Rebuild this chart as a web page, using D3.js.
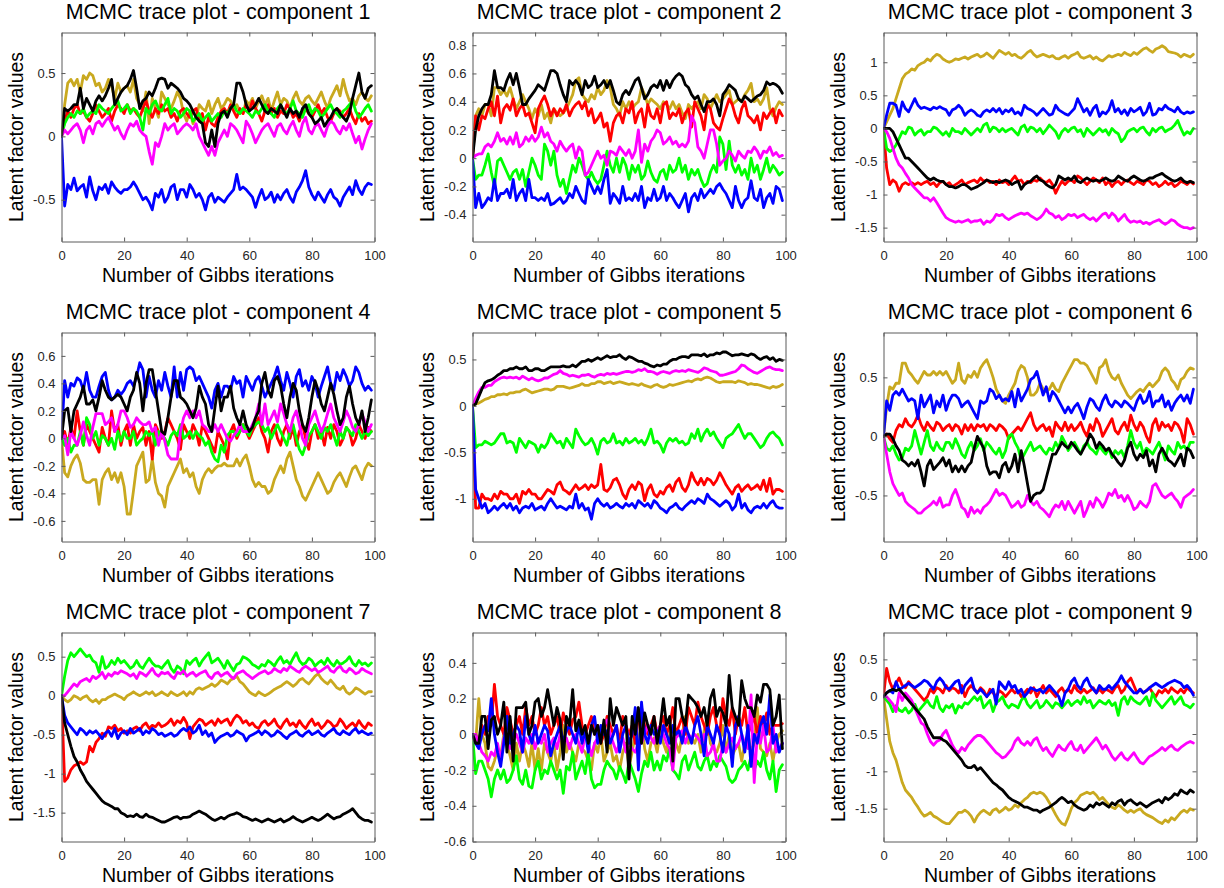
<!DOCTYPE html>
<html>
<head>
<meta charset="utf-8">
<script src="https://cdn.jsdelivr.net/npm/d3@7/dist/d3.min.js"></script>
<style>
  html, body { margin: 0; padding: 0; background: #ffffff; }
  svg { display: block; }
  text { font-family: "Liberation Sans", Arial, Helvetica, sans-serif; }
</style>
</head>
<body>
<script>
// Latent factor traces over 100 Gibbs iterations, nine components, six chains each.

// ---- component 1 ----
const c1_gold = [0,.25,.42,.45,.40,.45,.35,.48,.45,.50,
.48,.40,.42,.35,.38,.45,.40,.30,.42,.35,
.38,.40,.35,.45,.30,.25,.20,.35,.10,.30,
.22,.15,.35,.30,.25,.22,.28,.35,.30,.18,
.12,.20,.10,.15,.25,.22,.20,.28,.18,.25,
.30,.22,.25,.30,.28,.22,.25,.20,.18,.28,
.25,.30,.22,.28,.32,.25,.30,.20,.28,.35,
.25,.30,.28,.22,.30,.35,.28,.25,.30,.32,
.28,.25,.30,.35,.28,.22,.30,.35,.40,.32,
.45,.35,.28,.30,.25,.32,.35,.30,.28,.32];
const c1_red = [0,.12,.20,.15,.22,.25,.18,.20,.15,.12,
.18,.25,.20,.15,.18,.22,.12,.20,.25,.22,
.18,.25,.20,.22,.18,.15,.22,.28,.20,.15,
.22,.18,.25,.20,.22,.15,.18,.12,.20,.22,
.18,.15,.20,.22,.12,.18,.05,.15,.10,.08,
.15,.20,.22,.18,.25,.20,.15,.22,.18,.25,
.20,.28,.22,.18,.12,.20,.25,.18,.22,.15,
.20,.18,.25,.22,.15,.18,.12,.20,.22,.18,
.15,.20,.25,.18,.22,.15,.12,.18,.22,.20,
.15,.18,.22,.15,.10,.18,.12,.15,.10,.12];
const c1_green = [0,.10,.15,.18,.15,.20,.18,.22,.15,.18,
.20,.18,.25,.22,.20,.18,.22,.25,.28,.20,
.22,.25,.18,.22,.20,.15,.05,.22,.18,.25,
.28,.22,.20,.25,.30,.18,.22,.20,.15,.18,
.22,.20,.12,.15,.18,.12,.15,.18,.12,.15,
.18,.15,.20,.18,.22,.25,.20,.18,.22,.20,
.18,.15,.20,.18,.22,.25,.20,.18,.15,.22,
.25,.20,.18,.22,.28,.20,.18,.15,.22,.25,
.18,.22,.20,.15,.18,.22,.25,.20,.18,.15,
.20,.22,.25,.28,.20,.15,.18,.22,.25,.20];
const c1_magenta = [0,.05,.02,.05,.08,.10,.05,-.05,.05,.08,
.02,.10,.12,.08,.12,.15,.10,.05,.08,.02,
-.02,.05,.10,.08,.12,.05,.02,.00,-.12,-.22,
-.05,-.08,.00,.10,.05,.08,.10,.02,.05,.08,
.10,.08,.05,.10,.00,-.05,-.10,-.15,-.08,-.15,
-.05,.00,.05,.00,.10,.08,.05,.00,-.05,.12,
.08,.02,-.05,.00,.05,.08,.10,.05,.00,.08,
.10,.05,.02,.08,.12,.05,.00,.10,.15,.05,
.02,.08,.10,.05,.00,.08,.12,.10,.05,.02,
.08,.05,.10,.02,-.05,.00,-.10,-.02,.05,.10];
const c1_blue = [0,-.55,-.38,-.42,-.33,-.43,-.40,-.38,-.48,-.32,
-.43,-.50,-.40,-.42,-.38,-.45,-.36,-.40,-.43,-.45,
-.42,-.42,-.40,-.36,-.40,-.45,-.50,-.48,-.52,-.58,
-.45,-.48,-.42,-.52,-.48,-.40,-.38,-.50,-.42,-.42,
-.48,-.38,-.42,-.48,-.45,-.50,-.58,-.48,-.45,-.52,
-.48,-.50,-.52,-.48,-.45,-.42,-.30,-.42,-.40,-.42,
-.45,-.48,-.56,-.48,-.42,-.50,-.48,-.44,-.52,-.46,
-.50,-.45,-.42,-.48,-.52,-.44,-.40,-.35,-.27,-.40,
-.46,-.50,-.44,-.48,-.52,-.46,-.42,-.48,-.50,-.55,
-.48,-.44,-.40,-.46,-.35,-.42,-.46,-.40,-.37,-.38];
const c1_black = [0,.22,.20,.22,.25,.25,.38,.22,.30,.25,
.20,.28,.32,.28,.32,.38,.45,.25,.30,.35,
.38,.40,.45,.52,.38,.22,.28,.30,.35,.32,
.38,.45,.46,.45,.38,.42,.40,.38,.35,.30,
.28,.25,.20,.15,.12,.10,-.05,-.08,.05,-.08,
.10,.18,.20,.15,.22,.25,.42,.42,.35,.25,
.20,.22,.25,.30,.25,.20,.18,.22,.20,.18,
.25,.20,.15,.22,.18,.20,.15,.22,.25,.18,
.15,.10,.12,.15,.08,.12,.15,.20,.22,.18,
.15,.12,.18,.30,.40,.50,.35,.30,.38,.40];

// ---- component 2 ----
const c2_gold = [0,.30,.35,.30,.38,.38,.30,.50,.50,.45,
.48,.44,.50,.42,.35,.40,.45,.40,.35,.28,
.35,.30,.38,.28,.32,.25,.35,.32,.30,.32,
.35,.40,.45,.55,.57,.45,.42,.40,.45,.42,
.50,.45,.48,.55,.50,.38,.35,.30,.40,.35,
.40,.35,.38,.40,.50,.45,.38,.42,.40,.38,
.35,.40,.38,.35,.40,.35,.38,.32,.28,.38,
.35,.38,.40,.35,.45,.42,.35,.40,.45,.40,
.42,.45,.48,.38,.40,.42,.40,.45,.48,.53,
.40,.42,.38,.42,.50,.35,.30,.36,.40,.38];
const c2_red = [0,.30,.20,.30,.28,.35,.40,.30,.44,.25,
.35,.38,.34,.42,.30,.35,.38,.30,.32,.25,
.18,.35,.40,.44,.38,.30,.35,.30,.35,.32,
.38,.30,.35,.38,.40,.35,.40,.30,.35,.25,
.28,.32,.22,.25,.12,.25,.30,.32,.25,.35,
.32,.40,.25,.32,.35,.22,.38,.30,.28,.35,
.25,.38,.40,.28,.32,.30,.35,.25,.32,.35,
.22,.40,.35,.30,.20,.38,.35,.25,.22,.20,
.28,.35,.42,.38,.30,.25,.35,.40,.30,.28,
.25,.30,.20,.32,.28,.32,.35,.25,.34,.30];
const c2_green = [0,-.15,-.12,-.12,-.05,.03,-.10,-.20,-.02,.00,
-.05,-.10,-.15,-.10,-.08,-.15,-.08,-.20,-.10,.00,
-.05,-.12,-.15,.10,.05,-.05,.05,-.12,-.20,-.15,
-.25,-.15,-.05,-.10,.00,-.05,-.12,-.15,-.10,-.15,
-.18,-.15,-.05,.05,-.05,-.10,.00,-.10,.00,-.05,
-.15,-.05,-.10,-.05,-.15,-.12,-.02,-.10,-.15,-.17,
-.10,-.08,-.15,-.05,-.10,-.08,.00,-.10,-.05,-.15,
-.08,-.12,-.08,-.15,-.20,-.18,-.10,-.05,-.10,.15,
.10,-.08,.12,-.05,-.10,-.05,-.12,-.08,-.15,.00,
-.10,-.05,-.15,-.08,.00,-.10,-.05,-.08,-.12,-.10];
const c2_magenta = [0,.02,.03,.03,.08,.10,.08,.12,.18,.12,
.14,.10,.15,.10,.18,.08,.10,.15,.12,.16,
.12,.15,.22,.15,.18,.12,.10,.05,.12,.08,
.05,.08,.10,.00,.08,.05,-.12,-.10,-.05,.00,
.05,.00,.02,-.05,.05,.04,.02,.08,.05,.02,
.06,.00,.05,.20,-.03,.10,.05,.12,.15,.20,
.18,.10,.12,.15,.10,.12,.08,.10,.08,.12,
.30,.25,.08,.05,.00,.10,.20,.20,.10,-.05,
-.02,.00,.05,.02,-.02,.05,.02,.00,.05,.04,
.08,.05,.00,.05,.04,.08,.02,.04,.01,.02];
const c2_blue = [0,-.35,-.25,-.35,-.32,-.28,-.30,-.15,-.30,-.25,
-.25,-.22,-.28,-.15,-.30,-.25,-.22,-.30,-.15,-.28,
-.28,-.30,-.28,-.30,-.25,-.33,-.32,-.30,-.28,-.32,
-.30,-.25,-.28,-.20,-.25,-.30,-.32,-.15,-.20,-.25,
-.20,-.25,-.15,-.08,-.32,-.25,-.28,-.32,-.20,-.30,
-.28,-.30,-.25,-.30,-.20,-.35,-.28,-.30,-.22,-.30,
-.28,-.20,-.30,-.25,-.28,-.32,-.35,-.30,-.25,-.38,
-.28,-.25,-.30,-.22,-.28,-.25,-.22,-.25,-.20,-.18,
-.22,-.25,-.30,-.35,-.20,-.30,-.35,-.30,-.28,-.16,
-.28,-.30,-.22,-.35,-.28,-.25,-.32,-.20,-.22,-.30];
const c2_black = [0,.20,.30,.35,.38,.38,.45,.62,.50,.50,
.48,.55,.60,.52,.60,.50,.38,.38,.42,.45,
.48,.52,.50,.48,.55,.62,.62,.60,.52,.45,
.40,.55,.52,.55,.52,.45,.55,.50,.52,.58,
.50,.52,.55,.50,.55,.48,.40,.38,.45,.48,
.45,.50,.55,.57,.50,.42,.45,.50,.52,.50,
.55,.48,.55,.50,.55,.58,.60,.58,.52,.50,
.45,.42,.44,.38,.33,.40,.40,.42,.38,.30,
.45,.48,.52,.50,.48,.42,.40,.44,.42,.40,
.42,.44,.45,.48,.54,.52,.53,.52,.50,.46];

// ---- component 3 ----
const c3_gold = [0,.10,.20,.30,.45,.60,.75,.82,.85,.90,
.88,.95,.98,1.00,1.05,1.02,1.08,1.12,1.10,1.05,
1.02,1.00,1.02,1.05,1.04,1.06,1.08,1.05,1.08,1.10,
1.12,1.08,1.10,1.14,1.10,1.06,1.12,1.18,1.15,1.12,
1.15,1.10,1.12,1.08,1.06,1.10,1.15,1.18,1.12,1.08,
1.10,1.12,1.10,1.08,1.10,1.06,1.05,1.08,1.10,1.06,
1.10,1.12,1.15,1.08,1.06,1.08,1.10,1.05,1.08,1.04,
1.02,1.06,1.10,1.08,1.10,1.12,1.10,1.15,1.12,1.10,
1.15,1.12,1.16,1.20,1.22,1.18,1.15,1.20,1.22,1.25,
1.22,1.16,1.15,1.14,1.12,1.08,1.12,1.10,1.08,1.12];
const c3_red = [0,-.60,-.85,-.78,-.82,-.95,-.85,-.82,-.85,-.82,
-.85,-.82,-.85,-.82,-.80,-.85,-.82,-.88,-.82,-.80,
-.85,-.82,-.88,-.85,-.82,-.78,-.85,-.82,-.80,-.78,
-.82,-.75,-.80,-.78,-.82,-.80,-.85,-.78,-.82,-.80,
-.85,-.78,-.72,-.80,-.78,-.85,-.80,-.82,-.78,-.80,
-.75,-.80,-.82,-.78,-.85,-.98,-.88,-.80,-.85,-.80,
-.78,-.82,-.72,-.75,-.80,-.85,-.80,-.75,-.78,-.82,
-.75,-.85,-.80,-.88,-.82,-.80,-.85,-.80,-.78,-.82,
-.85,-.80,-.82,-.85,-.78,-.80,-.85,-.82,-.88,-.85,
-.80,-.85,-.82,-.88,-.85,-.80,-.82,-.85,-.80,-.84];
const c3_green = [0,-.30,-.35,-.32,-.25,-.15,-.05,-.08,.02,.00,
-.10,-.05,-.02,-.10,-.05,-.05,.02,.00,-.05,-.10,
-.05,-.12,.00,-.05,-.05,-.08,.00,-.05,-.10,-.05,
.00,-.05,.05,.08,-.05,.02,.00,-.05,.00,-.05,
-.02,.00,-.05,-.10,.02,.05,-.05,.02,.00,-.05,
.00,-.08,-.02,.05,.00,-.05,-.15,-.05,.00,-.05,
.00,.02,-.05,-.02,-.12,.00,-.05,-.10,-.05,.00,
-.05,-.02,-.10,.00,-.05,-.08,-.20,-.15,-.05,-.02,
.00,-.05,.00,.02,-.05,-.10,.00,-.05,.00,.02,
-.05,-.02,.00,.05,.12,.00,-.10,-.05,-.08,.00];
const c3_magenta = [0,-.05,-.15,-.30,-.45,-.55,-.60,-.68,-.75,-.85,
-.90,-.95,-1.00,-1.05,-1.05,-1.10,-1.05,-1.12,-1.20,-1.28,
-1.35,-1.38,-1.40,-1.42,-1.40,-1.42,-1.40,-1.38,-1.42,-1.40,
-1.40,-1.38,-1.45,-1.40,-1.42,-1.38,-1.30,-1.32,-1.30,-1.35,
-1.38,-1.35,-1.32,-1.30,-1.28,-1.30,-1.28,-1.32,-1.35,-1.38,
-1.35,-1.30,-1.22,-1.28,-1.30,-1.35,-1.32,-1.38,-1.35,-1.30,
-1.32,-1.30,-1.35,-1.32,-1.30,-1.35,-1.38,-1.35,-1.40,-1.35,
-1.30,-1.28,-1.35,-1.28,-1.32,-1.40,-1.35,-1.30,-1.38,-1.42,
-1.40,-1.42,-1.40,-1.44,-1.42,-1.45,-1.42,-1.40,-1.38,-1.42,
-1.45,-1.42,-1.38,-1.40,-1.45,-1.48,-1.50,-1.50,-1.52,-1.50];
const c3_blue = [0,.20,.38,.38,.35,.18,.40,.30,.25,.35,
.45,.35,.30,.32,.30,.28,.32,.30,.33,.30,
.28,.20,.28,.30,.35,.30,.20,.25,.28,.25,
.20,.18,.25,.28,.25,.30,.25,.30,.22,.28,
.25,.30,.22,.25,.20,.35,.30,.28,.25,.20,
.25,.30,.25,.20,.22,.35,.28,.25,.22,.20,
.25,.30,.45,.35,.25,.30,.20,.30,.35,.18,
.25,.22,.28,.42,.25,.30,.22,.28,.20,.30,
.25,.28,.32,.20,.25,.38,.20,.22,.30,.28,
.35,.30,.28,.25,.32,.25,.22,.25,.23,.25];
const c3_black = [0,.00,.00,-.05,-.15,-.25,-.35,-.45,-.45,-.50,
-.55,-.60,-.65,-.70,-.75,-.78,-.75,-.78,-.80,-.80,
-.85,-.88,-.88,-.90,-.88,-.85,-.85,-.88,-.92,-.90,
-.88,-.85,-.82,-.78,-.80,-.82,-.80,-.82,-.80,-.78,
-.80,-.85,-.82,-.80,-.92,-.85,-.82,-.80,-.75,-.72,
-.78,-.80,-.85,-.88,-.90,-.85,-.72,-.75,-.78,-.75,
-.78,-.72,-.80,-.82,-.78,-.75,-.78,-.80,-.78,-.80,
-.78,-.75,-.78,-.80,-.78,-.72,-.75,-.78,-.80,-.75,
-.72,-.75,-.78,-.80,-.78,-.75,-.75,-.72,-.70,-.68,
-.72,-.75,-.78,-.80,-.78,-.75,-.80,-.82,-.80,-.82];

// ---- component 4 ----
const c4_gold = [0,-.25,-.28,-.20,-.15,-.12,-.18,-.30,-.32,-.32,
-.30,-.30,-.48,-.30,-.25,-.22,-.30,-.25,-.32,-.25,
-.35,-.55,-.55,-.38,-.20,-.15,-.10,-.32,-.30,-.15,
-.32,-.40,-.42,-.50,-.35,-.30,-.25,-.20,-.15,-.25,
-.22,-.28,-.25,-.35,-.40,-.30,-.25,-.22,-.25,-.22,
-.20,-.20,-.18,-.20,-.20,-.20,-.15,-.20,-.15,-.12,
-.20,-.30,-.35,-.32,-.35,-.35,-.40,-.38,-.30,-.25,
-.20,-.25,-.15,-.10,-.20,-.30,-.35,-.42,-.45,-.40,
-.35,-.30,-.25,-.30,-.35,-.40,-.38,-.32,-.28,-.25,
-.30,-.35,-.28,-.22,-.20,-.25,-.30,-.22,-.18,-.20];
const c4_red = [0,.05,-.05,.08,.00,.20,.05,-.05,.10,.05,
.00,-.05,-.10,.08,.00,-.05,.20,.05,.10,-.05,
.05,.10,-.05,.10,.00,.05,.08,-.05,.05,-.15,
.10,.05,.00,.05,.15,.10,.05,.00,-.08,.10,
.05,.00,.10,.05,-.05,.10,.05,.00,-.05,-.10,
.05,.00,-.05,-.15,.05,.10,.00,.05,.10,.05,
.00,.05,.10,.15,.05,.00,-.10,.05,.10,.00,
-.05,.05,.10,.00,.08,-.05,.05,.10,.00,-.08,
.05,.10,.00,.05,-.05,.08,.00,.10,.05,-.05,
.00,.08,.05,-.05,.00,.10,.05,.00,.08,.05];
const c4_green = [0,-.05,.00,-.10,-.05,-.05,.05,-.05,.15,.10,
.00,.05,-.05,.02,.00,-.05,.00,-.08,.05,-.02,
.05,.00,.00,.05,-.05,-.02,.00,.05,.02,.05,
-.05,.05,.02,.00,-.05,.02,.05,.02,.10,.00,
.02,.05,.00,.05,.02,.00,-.05,-.02,-.10,-.15,
-.17,-.05,-.10,.02,.05,.05,.02,.05,.10,.05,
.02,.08,.10,.12,.10,.05,.08,.00,.05,.10,
.05,.00,-.05,.05,.10,.00,-.08,-.12,-.05,.02,
.05,.10,.05,.00,.08,.05,.10,.02,-.05,.05,
.00,.08,.05,.02,.10,.05,.00,.05,.02,.05];
const c4_magenta = [0,.02,-.12,.05,.00,-.05,.02,.12,.02,-.05,
.08,.18,.18,.18,.10,.12,.15,.05,.10,.20,
.20,.15,.08,.10,.15,.12,.10,.10,.12,.05,
.08,-.05,.05,-.02,-.12,-.15,-.15,-.15,.05,.15,
.20,.15,.20,.15,.20,.10,.08,.05,.05,.10,
.05,.10,.05,.00,-.02,.02,.05,.10,.05,.05,
.05,.10,.15,.25,.10,.25,.10,.15,.20,.12,
.25,.18,.10,.05,.15,.20,.10,.00,-.05,.10,
.15,.20,.12,.05,.10,.18,.25,.15,.10,.05,
.12,.20,.15,.08,.05,.10,.18,.12,.05,.10];
const c4_blue = [0,.42,.30,.40,.38,.44,.42,.35,.48,.35,
.30,.30,.38,.45,.48,.35,.28,.30,.35,.32,
.35,.40,.42,.38,.45,.55,.50,.30,.45,.35,
.30,.42,.35,.48,.38,.30,.52,.30,.48,.35,
.50,.52,.50,.42,.45,.40,.35,.30,.22,.35,
.40,.30,.38,.38,.35,.45,.40,.42,.30,.45,
.40,.35,.42,.45,.38,.30,.35,.40,.45,.52,
.42,.35,.48,.40,.30,.45,.50,.38,.42,.35,
.45,.40,.30,.38,.45,.52,.40,.35,.48,.42,
.50,.45,.38,.42,.52,.48,.40,.35,.38,.35];
const c4_black = [0,.20,.22,.05,.20,.25,.30,.38,.25,.25,
.28,.20,.30,.42,.35,.30,.28,.30,.32,.30,
.25,.20,.30,.35,.48,.40,.20,.40,.50,.50,
.35,.20,.05,.03,.15,.30,.42,.42,.30,.28,
.25,.20,.15,.22,.38,.30,.25,.10,.05,.22,
.38,.20,.30,.30,.38,.22,.15,.10,.20,.10,
.05,.08,.15,.20,.40,.48,.35,.30,.42,.45,
.38,.25,.15,.30,.40,.35,.20,.10,.05,.15,
.30,.42,.35,.25,.20,.30,.40,.32,.20,.10,
.15,.30,.38,.25,.15,.10,.20,.05,.15,.28];

// ---- component 5 ----
const c5_gold = [0,.02,.03,.05,.07,.08,.10,.10,.12,.12,
.13,.12,.14,.14,.15,.15,.17,.18,.16,.14,
.15,.16,.17,.18,.18,.17,.18,.21,.21,.21,
.20,.19,.20,.21,.22,.24,.22,.22,.24,.24,
.26,.26,.24,.25,.26,.24,.25,.26,.25,.24,
.23,.24,.23,.22,.24,.22,.21,.20,.22,.23,
.21,.20,.21,.23,.22,.23,.24,.25,.26,.27,
.26,.28,.29,.28,.30,.31,.30,.28,.26,.25,
.26,.26,.26,.26,.25,.27,.26,.25,.23,.24,
.23,.23,.22,.21,.20,.19,.21,.20,.21,.23];
const c5_red = [0,-1.10,-1.10,-.95,-1.00,-1.00,-1.02,-.95,-1.00,-.92,
-.95,-.95,-1.00,-1.00,-.95,-1.05,-.92,-.95,-.90,-.95,
-.95,-1.00,-1.00,-.95,-.90,-.92,-.95,-.85,-.82,-.90,
-.92,-.95,-.90,-.85,-.90,-.88,-.85,-.90,-.85,-.88,
-.85,-.63,-.90,-.92,-.88,-.80,-.78,-.85,-.95,-1.00,
-.90,-.85,-.90,-.82,-.85,-1.02,-.90,-.85,-.95,-.98,
-.92,-.95,-.88,-.85,-.92,-.82,-.78,-.88,-.92,-.85,
-.72,-.80,-.85,-.78,-.85,-.78,-.80,-.85,-.80,-.72,
-.78,-.85,-.90,-.95,-.88,-.85,-.92,-.88,-.85,-.90,
-.88,-.85,-.90,-.80,-.92,-.78,-.95,-.90,-.90,-.92];
const c5_green = [0,-.45,-.42,-.42,-.38,-.40,-.42,-.40,-.35,-.30,
-.30,-.40,-.38,-.40,-.50,-.35,-.40,-.45,-.38,-.40,
-.42,-.50,-.42,-.45,-.40,-.30,-.35,-.40,-.38,-.45,
-.35,-.40,-.45,-.25,-.32,-.38,-.42,-.40,-.35,-.42,
-.52,-.38,-.35,-.40,-.38,-.30,-.40,-.38,-.42,-.35,
-.40,-.38,-.35,-.40,-.37,-.42,-.35,-.25,-.40,-.38,
-.42,-.50,-.40,-.35,-.38,-.35,-.40,-.38,-.42,-.40,
-.30,-.35,-.25,-.38,-.30,-.25,-.32,-.28,-.35,-.40,
-.45,-.35,-.32,-.30,-.25,-.20,-.28,-.35,-.30,-.30,
-.35,-.40,-.45,-.42,-.35,-.30,-.28,-.32,-.35,-.42];
const c5_magenta = [0,.08,.15,.20,.20,.22,.22,.26,.28,.30,
.31,.30,.31,.30,.31,.29,.32,.30,.28,.30,
.28,.27,.28,.30,.30,.32,.34,.35,.38,.35,
.34,.32,.33,.32,.31,.33,.33,.34,.32,.31,
.33,.34,.33,.35,.34,.35,.34,.35,.36,.37,
.37,.36,.37,.39,.38,.40,.37,.37,.36,.34,
.36,.37,.36,.35,.37,.38,.37,.38,.37,.39,
.38,.37,.36,.38,.41,.40,.38,.37,.36,.33,
.33,.34,.35,.36,.37,.40,.44,.43,.40,.38,
.36,.35,.37,.39,.41,.42,.40,.39,.39,.38];
const c5_blue = [0,-.90,-1.00,-1.10,-1.05,-1.15,-1.12,-1.08,-1.12,-1.08,
-1.05,-1.10,-1.05,-1.12,-1.08,-1.15,-1.10,-1.08,-1.10,-1.05,
-1.12,-1.10,-1.08,-1.12,-1.05,-1.00,-1.05,-1.10,-1.08,-1.10,
-1.12,-1.08,-1.10,-.95,-1.10,-1.05,-1.12,-1.10,-1.22,-1.05,
-1.00,-1.05,-1.08,-1.05,-1.10,-1.08,-1.05,-1.08,-1.10,-1.05,
-1.08,-1.05,-1.10,-1.02,-1.05,-1.08,-1.05,-1.10,-1.02,-1.05,
-1.10,-1.12,-1.15,-1.10,-1.08,-1.05,-1.10,-1.12,-1.08,-1.05,
-1.02,-1.05,-1.00,-1.02,-1.05,-.95,-1.00,-1.02,-1.05,-1.08,
-1.05,-1.02,-1.05,-1.12,-1.08,-.95,-1.10,-1.05,-1.12,-1.15,
-1.10,-1.08,-1.10,-1.05,-1.10,-1.05,-1.02,-1.08,-1.10,-1.10];
const c5_black = [0,.02,.10,.18,.25,.27,.28,.30,.33,.35,
.38,.38,.40,.40,.42,.40,.40,.42,.38,.38,
.40,.40,.38,.38,.40,.42,.42,.42,.42,.43,
.42,.42,.44,.42,.45,.48,.48,.50,.48,.50,
.52,.50,.52,.54,.52,.53,.53,.55,.52,.50,
.53,.52,.50,.48,.48,.46,.45,.43,.42,.44,
.43,.45,.45,.48,.50,.50,.52,.53,.53,.52,
.55,.55,.55,.54,.56,.53,.55,.55,.57,.56,
.58,.58,.56,.54,.55,.55,.56,.55,.54,.56,
.55,.52,.50,.52,.53,.50,.52,.48,.50,.49];

// ---- component 6 ----
const c6_gold = [0,.25,.42,.40,.45,.45,.62,.62,.55,.52,
.48,.45,.50,.55,.52,.52,.55,.52,.55,.52,
.55,.50,.45,.48,.62,.48,.45,.52,.50,.55,
.50,.58,.62,.65,.58,.50,.40,.35,.30,.28,
.35,.40,.45,.55,.60,.58,.50,.35,.35,.38,
.45,.40,.38,.40,.45,.40,.38,.45,.50,.55,
.60,.65,.65,.62,.62,.60,.55,.50,.45,.58,
.60,.65,.55,.50,.48,.52,.45,.40,.35,.32,
.35,.38,.40,.38,.42,.45,.42,.45,.48,.55,
.58,.55,.48,.45,.40,.48,.50,.55,.58,.57];
const c6_red = [0,.02,-.02,-.05,.05,.10,.08,.15,.10,.08,
.12,.18,.10,.05,.12,.08,.05,.12,.10,.05,
.08,.10,.05,.10,.08,.02,.10,.05,.10,.05,
.10,.08,.10,.05,.10,.08,.05,.10,.08,.05,
-.02,.02,.05,.08,.05,.10,.15,.20,.10,.05,
.08,.10,.05,.08,.00,.12,.08,.05,.12,.05,
.10,.05,.08,.12,.05,.00,.10,.05,.15,.10,
.00,.05,.10,.15,.05,.02,.08,.12,.05,.18,
.10,.05,.12,.08,.00,-.05,.10,.15,.05,.12,
.08,.10,.05,.12,.10,.05,-.05,.15,.10,.02];
const c6_green = [0,-.10,-.12,-.08,-.15,-.20,-.18,-.10,-.12,-.08,
.05,-.05,-.15,-.05,.05,-.08,-.12,-.05,-.10,-.12,
-.05,-.05,-.10,-.02,-.08,-.15,-.18,-.10,-.05,-.12,
-.08,-.02,-.12,-.05,-.08,-.12,-.15,-.10,-.18,-.12,
.00,.02,-.05,-.10,-.20,-.15,-.10,-.05,-.12,-.10,
-.08,-.12,-.15,-.10,-.12,-.05,-.10,.00,-.05,-.12,
-.08,-.05,-.10,-.15,-.08,-.05,-.10,-.12,-.15,-.08,
-.12,-.15,-.10,-.18,-.12,-.15,-.12,-.18,-.08,.05,
-.05,-.10,-.05,-.15,-.10,-.12,-.15,-.10,-.05,-.12,
-.20,-.08,-.12,-.15,-.05,-.10,-.08,-.12,-.05,-.05];
const c6_magenta = [0,-.15,-.30,-.40,-.45,-.50,-.48,-.55,-.58,-.60,
-.62,-.65,-.65,-.62,-.60,-.58,-.55,-.58,-.52,-.60,
-.58,-.58,-.50,-.45,-.52,-.60,-.62,-.68,-.60,-.65,
-.62,-.65,-.60,-.58,-.55,-.50,-.45,-.50,-.48,-.50,
-.55,-.60,-.58,-.55,-.60,-.58,-.50,-.55,-.58,-.55,
-.60,-.62,-.65,-.68,-.62,-.58,-.60,-.55,-.62,-.55,
-.60,-.65,-.60,-.55,-.68,-.62,-.55,-.60,-.52,-.55,
-.60,-.55,-.48,-.50,-.45,-.52,-.50,-.55,-.50,-.55,
-.62,-.60,-.55,-.58,-.60,-.55,-.42,-.40,-.45,-.50,
-.52,-.50,-.48,-.52,-.55,-.60,-.52,-.50,-.48,-.45];
const c6_blue = [0,.30,.22,.35,.38,.35,.40,.35,.30,.32,
.30,.15,.35,.25,.30,.35,.20,.30,.25,.35,
.22,.30,.35,.35,.32,.25,.28,.30,.25,.20,
.15,.30,.28,.30,.40,.38,.32,.35,.30,.32,
.30,.38,.25,.40,.30,.35,.40,.48,.50,.55,
.45,.35,.42,.30,.38,.35,.30,.25,.20,.25,
.20,.25,.28,.22,.15,.25,.32,.30,.25,.22,
.30,.35,.28,.25,.30,.28,.25,.30,.28,.25,
.22,.30,.35,.28,.30,.38,.25,.30,.30,.35,
.25,.30,.22,.28,.32,.35,.30,.35,.28,.40];
const c6_black = [0,.02,.02,-.02,-.08,-.12,-.20,-.22,-.25,-.22,
-.25,-.20,-.30,-.42,-.25,-.20,-.28,-.25,-.22,-.18,
-.25,-.20,-.30,-.25,-.30,-.25,-.30,-.25,-.22,-.10,
.00,-.05,-.10,-.25,-.32,-.30,-.30,-.35,-.25,-.22,
-.30,-.25,-.15,-.30,-.12,-.25,-.40,-.55,-.50,-.48,
-.48,-.45,-.35,-.25,-.15,-.15,-.10,-.05,-.08,-.10,
-.05,-.08,-.12,-.15,-.10,-.05,.02,-.02,-.10,-.05,
-.08,-.12,-.10,-.15,-.18,-.22,-.25,-.20,-.10,-.05,
-.15,-.20,-.15,-.18,-.12,-.25,-.20,-.30,-.15,-.10,
-.15,-.20,-.22,-.25,-.20,-.15,-.25,-.10,-.12,-.18];

// ---- component 7 ----
const c7_gold = [0,-.05,-.08,-.05,.00,-.02,-.05,-.02,.00,-.05,
-.08,-.05,-.10,-.05,-.05,-.02,.00,.02,.00,-.02,
-.05,.00,.02,.05,.02,.00,.02,.05,.02,.05,
.00,.02,.05,.02,.00,.05,.02,.00,.02,.05,
.00,.05,.02,.08,.10,.08,.10,.12,.15,.12,
.15,.20,.18,.15,.20,.22,.25,.18,.15,.10,
.05,.02,.00,.05,.02,.00,.02,.05,.08,.10,
.12,.15,.18,.15,.12,.15,.20,.22,.18,.15,
.20,.25,.28,.22,.18,.15,.20,.15,.10,.08,
.12,.05,.02,.05,.10,.08,.05,.02,.05,.05];
const c7_red = [0,-1.10,-1.05,-.95,-.90,-.88,-.85,-.88,-.85,-.65,
-.72,-.60,-.55,-.48,-.52,-.40,-.42,-.38,-.45,-.42,
-.48,-.45,-.48,-.42,-.40,-.45,-.38,-.35,-.42,-.38,
-.40,-.35,-.40,-.38,-.35,-.30,-.38,-.32,-.35,-.28,
-.35,-.55,-.40,-.35,-.30,-.32,-.38,-.35,-.32,-.38,
-.30,-.35,-.32,-.30,-.38,-.30,-.25,-.28,-.35,-.32,
-.38,-.35,-.40,-.42,-.35,-.32,-.38,-.35,-.30,-.38,
-.42,-.35,-.30,-.38,-.35,-.40,-.32,-.38,-.42,-.35,
-.30,-.38,-.35,-.42,-.38,-.32,-.35,-.40,-.38,-.30,
-.35,-.42,-.38,-.35,-.40,-.32,-.38,-.42,-.35,-.38];
const c7_green = [0,.25,.45,.55,.50,.55,.60,.55,.50,.52,
.45,.42,.30,.50,.35,.38,.45,.40,.48,.42,
.45,.40,.35,.38,.45,.38,.35,.42,.48,.42,
.38,.38,.35,.40,.45,.35,.30,.38,.35,.28,
.45,.40,.45,.48,.38,.45,.50,.55,.42,.45,
.48,.42,.35,.45,.38,.32,.40,.42,.50,.48,
.45,.40,.38,.35,.40,.38,.45,.42,.38,.45,
.50,.42,.45,.40,.48,.55,.45,.40,.42,.48,
.45,.38,.42,.45,.40,.48,.42,.38,.45,.40,
.42,.45,.50,.42,.38,.45,.40,.42,.38,.42];
const c7_magenta = [0,.00,.05,.10,.15,.12,.18,.20,.22,.18,
.25,.22,.25,.30,.22,.28,.25,.30,.28,.32,
.30,.28,.25,.28,.22,.30,.28,.25,.30,.35,
.28,.25,.30,.28,.30,.25,.22,.30,.28,.32,
.25,.28,.30,.25,.28,.30,.32,.25,.22,.28,
.30,.25,.28,.30,.25,.22,.28,.30,.32,.28,
.25,.22,.25,.28,.30,.32,.28,.30,.35,.32,
.30,.35,.32,.38,.35,.32,.30,.35,.38,.35,
.32,.35,.30,.32,.35,.38,.32,.30,.35,.38,
.32,.30,.35,.32,.28,.30,.35,.32,.30,.28];
const c7_blue = [0,-.25,-.35,-.40,-.45,-.50,-.42,-.45,-.50,-.45,
-.48,-.45,-.50,-.55,-.48,-.45,-.52,-.42,-.55,-.48,
-.45,-.50,-.42,-.48,-.45,-.42,-.50,-.45,-.48,-.42,
-.45,-.50,-.48,-.52,-.50,-.48,-.52,-.50,-.45,-.42,
-.45,-.40,-.48,-.45,-.38,-.50,-.45,-.52,-.48,-.60,
-.55,-.52,-.50,-.48,-.52,-.50,-.45,-.48,-.50,-.58,
-.52,-.50,-.48,-.45,-.50,-.45,-.48,-.52,-.50,-.45,
-.48,-.52,-.55,-.50,-.48,-.45,-.50,-.52,-.48,-.45,
-.50,-.48,-.45,-.50,-.52,-.48,-.45,-.42,-.48,-.50,
-.45,-.48,-.50,-.45,-.42,-.48,-.45,-.48,-.50,-.48];
const c7_black = [0,-.35,-.50,-.65,-.78,-.85,-.95,-1.02,-1.10,-1.15,
-1.20,-1.25,-1.30,-1.35,-1.38,-1.40,-1.42,-1.45,-1.45,-1.50,
-1.52,-1.55,-1.54,-1.55,-1.52,-1.55,-1.56,-1.52,-1.55,-1.56,
-1.58,-1.60,-1.62,-1.62,-1.60,-1.58,-1.56,-1.55,-1.58,-1.56,
-1.56,-1.55,-1.52,-1.50,-1.48,-1.50,-1.52,-1.55,-1.58,-1.60,
-1.58,-1.56,-1.58,-1.55,-1.53,-1.52,-1.50,-1.52,-1.55,-1.56,
-1.58,-1.60,-1.58,-1.60,-1.62,-1.60,-1.58,-1.60,-1.62,-1.60,
-1.58,-1.62,-1.60,-1.58,-1.55,-1.58,-1.60,-1.62,-1.60,-1.58,
-1.56,-1.58,-1.60,-1.58,-1.55,-1.52,-1.55,-1.58,-1.56,-1.55,
-1.52,-1.50,-1.48,-1.45,-1.50,-1.55,-1.58,-1.60,-1.60,-1.62];

// ---- component 8 ----
const c8_gold = [0,-.05,.20,.00,-.05,-.18,-.20,-.15,-.08,-.12,
.00,-.05,-.12,-.20,-.05,-.15,-.05,-.10,-.18,-.05,
-.20,-.08,-.20,-.05,-.10,-.15,-.05,-.20,-.10,.05,
-.10,-.05,-.10,-.15,-.05,-.08,-.10,-.15,-.20,-.05,
-.10,.00,-.15,-.10,-.05,-.15,-.12,-.20,-.10,-.05,
-.18,-.10,.00,-.05,.10,-.08,-.15,-.05,-.02,-.10,
.02,-.05,-.10,.00,.05,-.05,-.10,.00,.10,-.05,
-.02,-.05,.00,-.10,.02,.10,-.05,-.08,-.10,-.05,
.05,-.10,.00,-.12,-.08,-.05,-.15,-.05,.00,-.10,
-.05,.15,-.08,-.10,-.12,-.05,-.15,-.05,.00,.02];
const c8_red = [0,.00,-.05,.05,.00,.10,.05,.28,.10,.05,
.00,.15,.08,.00,.05,.10,.00,.15,.05,.10,
.00,.05,.15,.05,.10,.00,.05,.10,.00,.12,
.05,.00,.08,.10,.18,.05,.00,.05,.10,.00,
.05,-.05,.00,.10,.05,.00,.05,-.05,.10,.05,
.00,.05,-.05,.10,.15,.05,.00,.05,.10,.00,
.05,.10,.00,.05,.15,.00,.05,.10,.00,.15,
.10,.05,.18,.10,.05,.00,.10,.15,.05,.00,
.20,.10,.05,.15,.00,.10,.05,.15,.00,.05,
.10,.00,.10,.05,.12,.00,.05,.05,.05,.06];
const c8_green = [0,-.22,-.15,-.15,-.20,-.25,-.35,-.25,-.20,-.25,
-.20,-.27,-.25,-.20,-.12,-.25,-.28,-.20,-.29,-.30,
-.20,-.15,-.25,-.20,-.22,-.15,-.20,-.25,-.20,-.33,
-.18,-.20,-.10,-.25,-.20,-.15,-.22,-.10,-.25,-.30,
-.28,-.28,-.20,-.15,-.18,-.20,-.25,-.18,-.22,-.27,
-.15,-.20,-.25,-.32,-.22,-.15,-.18,-.10,-.20,-.15,
-.20,-.12,-.15,-.08,-.20,-.22,-.25,-.15,-.12,-.20,
-.15,-.10,-.18,-.20,-.15,-.12,-.20,-.15,-.18,-.12,
-.15,-.18,-.25,-.27,-.25,-.20,-.18,-.15,-.20,-.12,
-.20,-.15,-.18,-.10,-.20,-.25,-.15,-.32,-.20,-.17];
const c8_magenta = [0,.00,-.05,-.10,-.12,-.15,-.10,-.12,-.05,-.15,
-.02,-.05,-.08,-.02,.00,-.05,-.10,-.02,-.05,.00,
-.08,-.02,-.05,.00,-.10,-.05,-.02,-.08,.00,-.05,
-.02,-.08,-.02,.00,-.05,-.10,.00,-.05,-.12,-.05,
-.02,.00,.05,.08,.00,-.05,-.10,-.05,-.02,-.10,
-.05,-.08,-.10,-.05,-.05,.00,.05,-.02,-.05,.02,
.05,.00,-.05,-.08,-.20,-.02,.00,.02,-.05,.00,
-.02,.00,-.02,-.05,.00,-.12,-.10,-.05,-.15,-.15,
-.05,-.10,-.05,-.02,-.08,-.05,.00,-.05,-.08,.22,
-.27,.00,-.05,.05,-.10,-.08,.05,-.10,-.08,-.05];
const c8_blue = [0,-.05,-.08,.00,.05,.02,.20,.00,-.10,-.18,
-.05,.10,-.05,.00,.05,.02,-.10,.10,.00,-.05,
.05,-.05,.00,.05,.02,-.12,-.05,.00,.05,-.05,
.02,.05,.00,-.05,.05,-.05,.02,-.10,.05,.10,
-.05,.05,.00,.02,-.05,.00,.05,-.10,.00,.05,
-.05,.00,.15,-.20,.18,.00,-.05,.05,.00,.02,
-.05,.05,.00,-.05,.05,.00,.02,-.05,.05,.00,
-.05,.05,.10,.00,-.12,.05,.00,-.05,.05,.00,
-.10,.05,.00,-.18,.05,.10,.00,-.10,.05,-.18,
.00,-.05,.05,.10,.00,.22,-.05,.00,-.10,-.05];
const c8_black = [0,-.05,-.05,.10,.10,-.08,.08,.10,.00,.05,
.18,-.10,.10,-.15,.15,.15,.15,.18,.00,.05,
.18,.20,.10,.15,.25,.15,.05,.15,.08,-.14,
.10,.05,.25,.02,.08,.00,.05,-.05,.05,.00,
.05,-.05,.08,-.10,.20,.05,.15,.10,.05,.10,
-.25,.10,.00,.15,-.05,.12,.05,.00,.10,-.05,
.05,.20,.05,.10,-.15,.20,.20,.10,.05,.22,
.20,.18,.15,.10,.15,.05,.20,.25,.10,.15,
.12,.05,.33,.15,.10,.05,.30,.20,.15,.15,
.10,.22,.18,.28,.28,.25,.05,.10,.22,-.08];

// ---- component 9 ----
const c9_gold = [0,-.30,-.60,-.75,-.85,-1.00,-1.15,-1.25,-1.30,-1.35,
-1.42,-1.48,-1.55,-1.60,-1.58,-1.55,-1.60,-1.62,-1.65,-1.68,
-1.70,-1.70,-1.65,-1.60,-1.55,-1.55,-1.52,-1.55,-1.60,-1.68,
-1.60,-1.55,-1.52,-1.55,-1.58,-1.52,-1.50,-1.55,-1.52,-1.48,
-1.52,-1.50,-1.45,-1.48,-1.42,-1.38,-1.35,-1.30,-1.28,-1.30,
-1.28,-1.30,-1.35,-1.42,-1.50,-1.58,-1.65,-1.70,-1.72,-1.62,
-1.50,-1.42,-1.38,-1.32,-1.30,-1.28,-1.30,-1.28,-1.32,-1.38,
-1.35,-1.40,-1.45,-1.48,-1.50,-1.45,-1.48,-1.52,-1.55,-1.52,
-1.55,-1.52,-1.50,-1.55,-1.58,-1.60,-1.62,-1.65,-1.68,-1.70,
-1.65,-1.68,-1.62,-1.65,-1.60,-1.55,-1.52,-1.55,-1.50,-1.52];
const c9_red = [0,.38,.20,.10,.18,.25,.15,.12,.20,.15,
.10,.05,.00,-.05,.00,.10,.05,.12,.10,.05,
.15,.08,.12,.10,.05,.15,.00,.10,.15,.10,
.05,.12,.08,.00,.10,.05,.00,.08,.05,.00,
.05,.10,.05,.08,.00,.05,.10,.05,.12,.00,
.08,.15,.05,.10,.05,.00,.08,.12,.05,.10,
.05,.15,.08,.05,.10,.05,.08,.12,.05,.10,
.05,.10,.08,.05,.12,.15,.05,.10,.20,.25,
.15,.05,.10,.05,.08,.12,.05,.00,.08,.05,
.10,.05,.12,.08,.05,.10,.05,.12,.08,.05];
const c9_green = [0,-.05,-.10,-.20,-.12,-.18,-.20,-.15,-.22,-.18,
-.10,-.20,-.15,-.10,-.05,-.12,-.15,.00,-.15,-.20,
-.12,-.15,-.10,-.22,-.12,-.15,-.08,-.10,-.05,.00,
-.05,.00,-.15,-.10,-.05,-.20,-.08,-.05,.00,-.10,
-.15,-.10,-.12,-.15,-.05,.00,-.10,-.15,-.10,-.05,
-.15,-.12,-.05,-.10,-.15,-.08,-.10,-.15,-.10,-.05,
-.12,-.08,-.05,-.10,.00,-.08,-.05,-.15,-.10,-.05,
-.08,-.10,-.05,-.12,-.08,-.25,-.05,.00,-.10,.00,
-.05,-.08,-.10,-.05,.00,-.12,.05,-.05,-.10,-.15,
-.10,-.05,.00,-.10,-.05,.00,-.10,-.12,-.15,-.10];
const c9_magenta = [0,.00,-.05,-.10,-.20,.05,-.05,.05,.00,-.05,
-.15,-.25,-.35,-.38,-.50,-.60,-.65,-.60,-.58,-.50,
-.45,-.55,-.65,-.72,-.75,-.68,-.72,-.65,-.60,-.55,
-.52,-.52,-.55,-.60,-.65,-.70,-.75,-.78,-.82,-.80,
-.75,-.70,-.60,-.55,-.62,-.65,-.60,-.65,-.58,-.55,
-.65,-.72,-.68,-.75,-.80,-.72,-.65,-.70,-.72,-.65,
-.60,-.70,-.72,-.65,-.75,-.70,-.65,-.60,-.55,-.62,
-.70,-.65,-.72,-.80,-.85,-.80,-.75,-.82,-.85,-.80,
-.75,-.82,-.88,-.90,-.85,-.80,-.78,-.75,-.72,-.68,
-.72,-.68,-.65,-.70,-.72,-.68,-.65,-.62,-.60,-.62];
const c9_blue = [0,.05,.08,.05,.20,.10,.12,.15,.18,.15,
.12,.15,.18,.22,.20,.15,.10,.20,.25,.20,
.12,.10,.15,.20,.22,.05,.15,.20,.25,.10,
.05,.10,.05,.00,.05,.10,-.10,.20,.15,.10,
.20,.12,.15,.05,.10,.00,.05,.12,.10,.08,
.10,.05,.10,.15,.10,.05,.00,-.12,.05,.10,
.20,.25,.15,.10,.20,.25,.15,.10,.05,.15,
.10,.10,.15,.10,.15,.20,.28,.20,.15,.10,
.05,.05,.10,.05,.08,.12,.15,.18,.15,.12,
.15,.18,.20,.22,.20,.18,.12,.15,.10,.02];
const c9_black = [0,.05,.08,.10,.08,.10,.05,.00,-.05,-.10,
-.15,-.20,-.25,-.30,-.40,-.48,-.55,-.55,-.55,-.58,
-.60,-.65,-.70,-.75,-.80,-.85,-.92,-.95,-.95,-.92,
-.98,-.95,-1.00,-1.05,-1.10,-1.15,-1.18,-1.22,-1.25,-1.30,
-1.35,-1.38,-1.40,-1.42,-1.45,-1.48,-1.48,-1.50,-1.52,-1.52,
-1.55,-1.52,-1.50,-1.48,-1.45,-1.42,-1.38,-1.35,-1.38,-1.42,
-1.40,-1.45,-1.48,-1.50,-1.52,-1.50,-1.45,-1.48,-1.42,-1.45,
-1.42,-1.45,-1.48,-1.42,-1.45,-1.40,-1.38,-1.45,-1.40,-1.38,
-1.42,-1.45,-1.42,-1.45,-1.48,-1.45,-1.42,-1.40,-1.38,-1.42,
-1.35,-1.38,-1.35,-1.30,-1.32,-1.25,-1.28,-1.30,-1.25,-1.28];

// ---- panel settings ----
const panelTitles = d3.range(1, 10).map(k => `MCMC trace plot - component ${k}`);
const xLabel = "Number of Gibbs iterations";
const yLabel = "Latent factor values";
const xLimits = [0, 100];
const xTickValues = [0, 20, 40, 60, 80, 100];
const yLimits = [
  [-0.83, 0.82], [-0.59, 0.89], [-1.71, 1.45],
  [-0.75, 0.77], [-1.46, 0.79], [-0.89, 0.88],
  [-1.87, 0.81], [-0.60, 0.57], [-1.94, 0.86]
];
const yTickValues = [
  [-0.5, 0, 0.5],
  [-0.4, -0.2, 0, 0.2, 0.4, 0.6, 0.8],
  [-1.5, -1, -0.5, 0, 0.5, 1],
  [-0.6, -0.4, -0.2, 0, 0.2, 0.4, 0.6],
  [-1, -0.5, 0, 0.5],
  [-0.5, 0, 0.5],
  [-1.5, -1, -0.5, 0, 0.5],
  [-0.6, -0.4, -0.2, 0, 0.2, 0.4],
  [-1.5, -1, -0.5, 0, 0.5]
];

// chains in drawing order (later ones are painted on top)
const chainNames = ["gold", "red", "green", "magenta", "blue", "black"];
const chainColors = {
  gold: "#c9a91f", red: "#ff0000", green: "#00ff00",
  magenta: "#ff00ff", blue: "#0000ff", black: "#000000"
};
const componentChains = [
  [c1_gold, c1_red, c1_green, c1_magenta, c1_blue, c1_black],
  [c2_gold, c2_red, c2_green, c2_magenta, c2_blue, c2_black],
  [c3_gold, c3_red, c3_green, c3_magenta, c3_blue, c3_black],
  [c4_gold, c4_red, c4_green, c4_magenta, c4_blue, c4_black],
  [c5_gold, c5_red, c5_green, c5_magenta, c5_blue, c5_black],
  [c6_gold, c6_red, c6_green, c6_magenta, c6_blue, c6_black],
  [c7_gold, c7_red, c7_green, c7_magenta, c7_blue, c7_black],
  [c8_gold, c8_red, c8_green, c8_magenta, c8_blue, c8_black],
  [c9_gold, c9_red, c9_green, c9_magenta, c9_blue, c9_black]
];

// ---- layout ----
const width = 1224, height = 888;
const colLeft = [61, 472, 883];
const rowTop = [32, 332, 632];
const plotW = 313, plotH = 209;
const axisColor = "#5a5a5a";
const textColor = "#262626";

const svg = d3.select("body").append("svg")
  .attr("width", width).attr("height", height)
  .attr("viewBox", `0 0 ${width} ${height}`);

const fmt = d => String(d);

componentChains.forEach((chains, k) => {
  const r = Math.floor(k / 3), c = k % 3;
  const g = svg.append("g").attr("transform", `translate(${colLeft[c] + 0.5},${rowTop[r] + 0.5})`);

  const x = d3.scaleLinear().domain(xLimits).range([0, plotW]);
  const y = d3.scaleLinear().domain(yLimits[k]).range([plotH, 0]);

  const clipId = `clip-${k}`;
  g.append("clipPath").attr("id", clipId)
    .append("rect").attr("x", 0).attr("y", 0).attr("width", plotW).attr("height", plotH);

  const line = d3.line().x((d, i) => x(i)).y(d => y(d));

  const traces = g.append("g").attr("clip-path", `url(#${clipId})`);
  chains.forEach((vals, s) => {
    traces.append("path")
      .datum(vals)
      .attr("d", line)
      .attr("fill", "none")
      .attr("stroke", chainColors[chainNames[s]])
      .attr("stroke-width", 2.8)
      .attr("stroke-linejoin", "round")
      .attr("stroke-linecap", "round");
  });

  // axes: labelled bottom/left, plain top/right, ticks pointing inwards
  const styleAxis = sel => {
    sel.select(".domain").attr("stroke", axisColor).attr("stroke-width", 1);
    sel.selectAll(".tick line").attr("stroke", axisColor).attr("stroke-width", 1);
    sel.selectAll(".tick text").attr("fill", textColor)
      .style("font-family", '"Liberation Sans", Arial, Helvetica, sans-serif')
      .style("font-size", "13px");
  };

  g.append("g").attr("transform", `translate(0,${plotH})`)
    .call(d3.axisBottom(x).tickValues(xTickValues).tickFormat(fmt)
      .tickSizeInner(-4).tickSizeOuter(0).tickPadding(9.5))
    .call(styleAxis);
  g.append("g")
    .call(d3.axisTop(x).tickValues(xTickValues).tickFormat("")
      .tickSizeInner(-4).tickSizeOuter(0))
    .call(styleAxis);
  g.append("g")
    .call(d3.axisLeft(y).tickValues(yTickValues[k]).tickFormat(fmt)
      .tickSizeInner(-4).tickSizeOuter(0).tickPadding(6))
    .call(styleAxis);
  g.append("g").attr("transform", `translate(${plotW},0)`)
    .call(d3.axisRight(y).tickValues(yTickValues[k]).tickFormat("")
      .tickSizeInner(-4).tickSizeOuter(0))
    .call(styleAxis);

  g.append("text")
    .attr("x", plotW / 2).attr("y", -14)
    .attr("text-anchor", "middle")
    .attr("fill", "#000")
    .style("font-size", "21.5px")
    .text(panelTitles[k]);

  g.append("text")
    .attr("x", plotW / 2).attr("y", plotH + 40.5)
    .attr("text-anchor", "middle")
    .attr("fill", "#000")
    .style("font-size", "19.5px")
    .text(xLabel);

  g.append("text")
    .attr("transform", `translate(-39,${plotH / 2}) rotate(-90)`)
    .attr("text-anchor", "middle")
    .attr("fill", "#000")
    .style("font-size", "19.5px")
    .text(yLabel);
});

// every chain must hold one value per iteration
const badChains = [];
componentChains.forEach((chains, k) => chains.forEach((vals, s) => {
  if (vals.length !== 100) badChains.push(`c${k + 1}_${chainNames[s]}:${vals.length}`);
}));
if (badChains.length) throw new Error("chain length mismatch " + badChains.join(", "));
</script>
</body>
</html>
